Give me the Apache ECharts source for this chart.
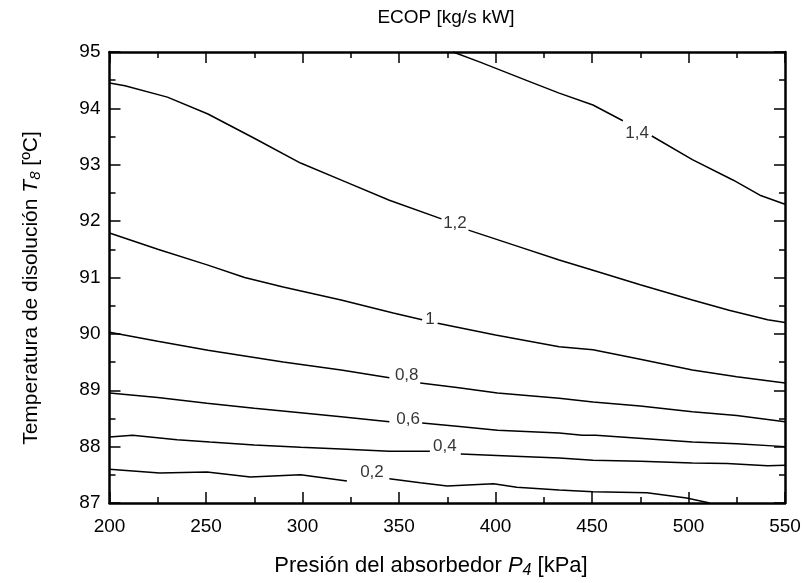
<!DOCTYPE html>
<html><head><meta charset="utf-8">
<script src="https://cdn.jsdelivr.net/npm/echarts@6/dist/echarts.min.js"></script>
<style>html,body{margin:0;padding:0;background:#fff}#c{width:804px;height:583px}</style>
</head><body><div id="c"></div>
<script>
// Contour lines of ECOP: [pressure kPa, temperature ºC]; null marks the gap left for the label
const c14 = [[378,95],[392,94.82],[418,94.47],[433,94.27],[450.5,94.06],[466,93.78],null,[481,93.51],[502,93.09],[523,92.73],[537,92.46],[550,92.30]];
const c12 = [[200,94.45],[208,94.4],[230,94.2],[251,93.9],[275,93.47],[299,93.03],[322,92.7],[345,92.37],[372,92.04],null,[386,91.84],[410,91.57],[433,91.31],[450.5,91.13],[475,90.87],[502,90.6],[521,90.42],[541,90.25],[550,90.2]];
const c10 = [[200,91.79],[225,91.5],[251,91.22],[270,91.0],[290,90.83],[320,90.6],[347,90.37],[362,90.25],null,[370,90.19],[400,89.98],[433,89.77],[450.5,89.72],[475,89.55],[502,89.36],[525,89.24],[550,89.13]];
const c08 = [[200,90.03],[225,89.87],[251,89.71],[290,89.5],[320,89.36],[345,89.22],null,[361,89.13],[380,89.05],[401,88.95],[433,88.86],[450.5,88.79],[475,88.72],[502,88.62],[525,88.55],[550,88.44]];
const c06 = [[200,88.95],[225,88.87],[250.5,88.77],[275,88.68],[299,88.6],[320,88.53],[345,88.44],null,[362,88.42],[380,88.36],[401,88.29],[433,88.24],[445,88.2],[452,88.2],[465,88.17],[502,88.08],[525,88.05],[550,88.0]];
const c04 = [[200,88.17],[212,88.2],[235,88.12],[252,88.08],[275,88.03],[299,87.99],[320,87.96],[345,87.92],[366,87.92],null,[382,87.87],[410,87.83],[433,87.8],[450.5,87.76],[475,87.74],[502,87.71],[520,87.7],[541,87.66],[550,87.67]];
const c02 = [[200,87.6],[226,87.53],[250.5,87.55],[273,87.46],[299,87.5],[323,87.39],null,[345,87.43],[361,87.36],[375,87.3],[399,87.34],[411,87.28],[433,87.23],[450.5,87.2],[478.5,87.18],[499,87.09],[511,87.0]];
const contours = [c14, c12, c10, c08, c06, c04, c02];
// Contour labels: [pressure, temperature, text]
const contourLabels = [[473.4,93.56,'1,4'],[379,91.97,'1,2'],[366,90.25,'1'],[354,89.27,'0,8'],[354.7,88.49,'0,6'],[373.8,88.0,'0,4'],[336,87.55,'0,2']];
const xMin = 200, xMax = 550, xStep = 50;
const yMin = 87, yMax = 95, yStep = 1;
const titleText = 'ECOP [kg/s kW]';

const FONT = '"Liberation Sans", Arial, sans-serif';
function split(arr){const out=[];let cur=[];arr.forEach(p=>{if(p===null){if(cur.length)out.push(cur);cur=[];}else cur.push(p);});if(cur.length)out.push(cur);return out;}
const series=[];
contours.forEach(c=>split(c).forEach(seg=>series.push({type:'line',data:seg,symbol:'none',smooth:false,lineStyle:{color:'#000',width:1.5},silent:true,z:3,clip:true})));
series.push({type:'scatter',data:contourLabels.map(l=>({value:[l[0],l[1]],name:l[2]})),symbolSize:0,silent:true,z:4,
  label:{show:true,position:'inside',formatter:p=>p.name,color:'#000',fontSize:17,fontFamily:FONT}});

const chart = echarts.init(document.getElementById('c'));
const axX = (pos,show)=>({type:'value',position:pos,min:xMin,max:xMax,interval:xStep,
  axisLine:{show:true,onZero:false,lineStyle:{color:'#000',width:2.5}},
  axisTick:{show:true,inside:true,length:11,lineStyle:{color:'#000',width:1.5}},
  minorTick:{show:true,splitNumber:2,length:6,lineStyle:{color:'#000',width:1.5}},
  splitLine:{show:false},minorSplitLine:{show:false},
  axisLabel:{show:show,color:'#000',fontSize:19,fontFamily:FONT,margin:14}});
const axY = (pos,show)=>({type:'value',position:pos,min:yMin,max:yMax,interval:yStep,
  axisLine:{show:true,onZero:false,lineStyle:{color:'#000',width:2.5}},
  axisTick:{show:true,inside:true,length:11,lineStyle:{color:'#000',width:1.5}},
  minorTick:{show:true,splitNumber:2,length:6,lineStyle:{color:'#000',width:1.5}},
  splitLine:{show:false},minorSplitLine:{show:false},
  axisLabel:{show:show,color:'#000',fontSize:19,fontFamily:FONT,margin:9}});
const rich = {a:{fontSize:22,fontFamily:FONT,fill:'#000',color:'#000'},
  i:{fontSize:22,fontFamily:FONT,fontStyle:'italic',fill:'#000',color:'#000'},
  s:{fontSize:16,fontFamily:FONT,fontStyle:'italic',fill:'#000',color:'#000',padding:[10,0,0,0]}};
const richY = JSON.parse(JSON.stringify(rich)); richY.a.fontSize=21; richY.i.fontSize=21; richY.s.fontSize=15; richY.s.padding=[9,0,0,0];
chart.setOption({
  animation:false,
  backgroundColor:'#fff',
  grid:{left:109.5,right:19,top:52,bottom:80,containLabel:false},
  xAxis:[axX('bottom',true), axX('top',false)],
  yAxis:[axY('left',true), axY('right',false)],
  series:series,
  graphic:[
    {type:'text',x:446,y:18,style:{text:titleText,fontSize:19,fontFamily:FONT,fill:'#000',align:'center',verticalAlign:'middle'}},
    {type:'text',x:431,y:566,style:{text:'{a|Presión del absorbedor }{i|P}{s|4}{a| [kPa]}',rich:rich,align:'center',verticalAlign:'middle'}},
    {type:'text',x:31,y:288,rotation:Math.PI/2,style:{text:'{a|Temperatura de disolución }{i|T}{s|8}{a| [ºC]}',rich:richY,align:'center',verticalAlign:'middle'}}
  ]
});
</script></body></html>
